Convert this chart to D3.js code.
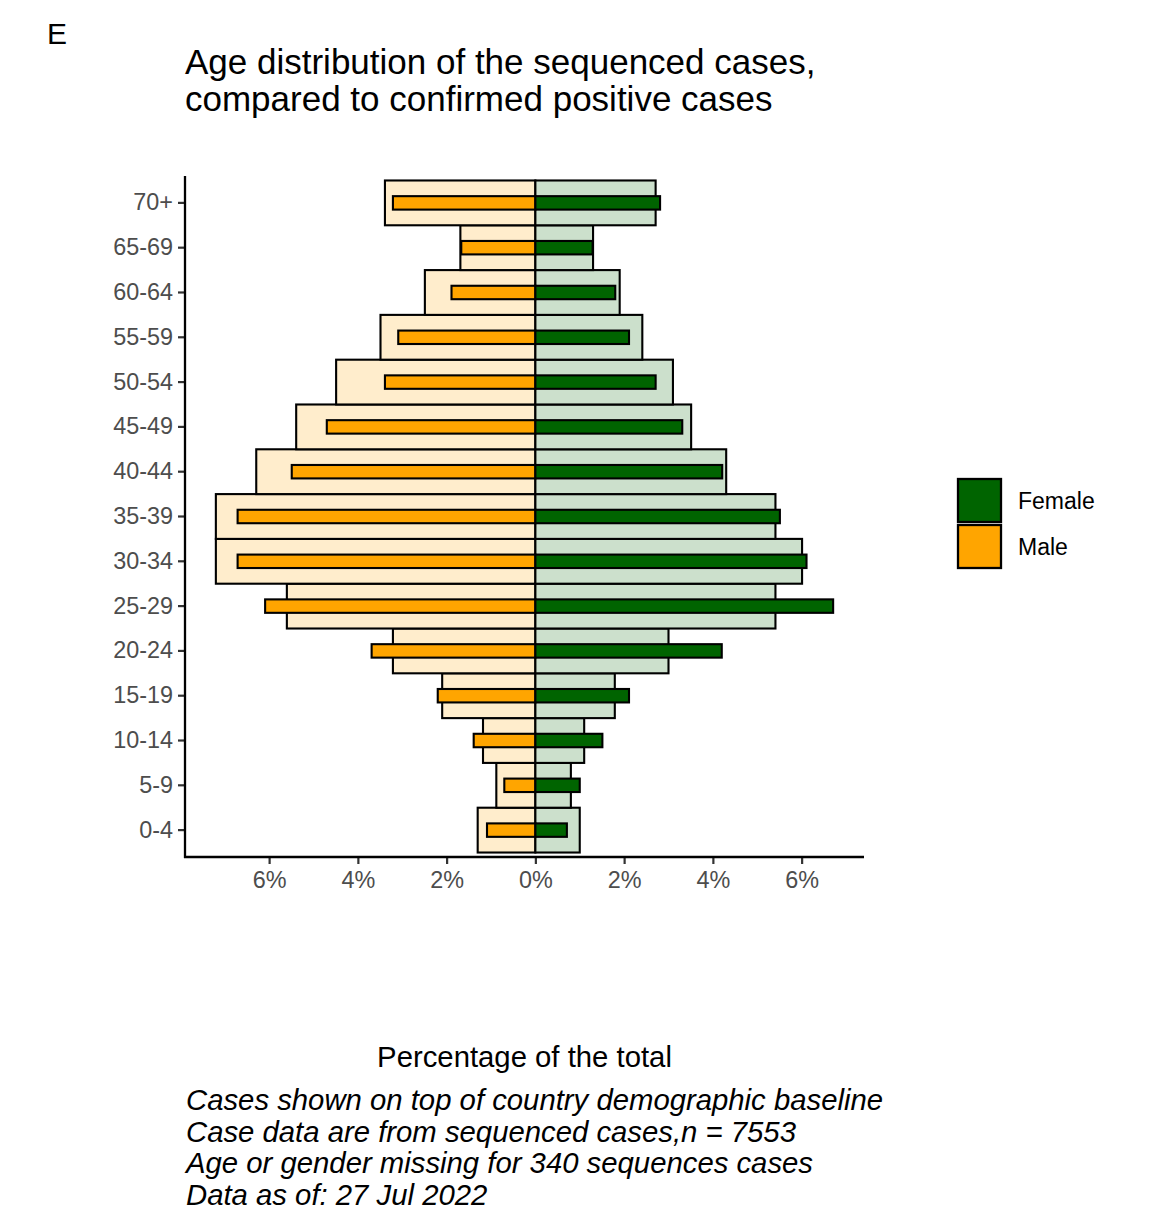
<!DOCTYPE html>
<html>
<head>
<meta charset="utf-8">
<script src="https://cdn.jsdelivr.net/npm/d3@7"></script>
<style>
  html, body { margin: 0; padding: 0; background: #fff; }
  svg { display: block; }
  text { font-family: "Liberation Sans", Arial, Helvetica, sans-serif; }
</style>
</head>
<body>
<div id="chart"></div>
<script>
// ---- Data (percent of total) ----
const ageGroups = ["0-4","5-9","10-14","15-19","20-24","25-29","30-34","35-39","40-44","45-49","50-54","55-59","60-64","65-69","70+"];
const baselineMale   = [1.30, 0.88, 1.18, 2.10, 3.21, 5.60, 7.20, 7.20, 6.29, 5.39, 4.49, 3.49, 2.49, 1.69, 3.39];
const baselineFemale = [1.00, 0.80, 1.10, 1.79, 3.00, 5.41, 6.01, 5.41, 4.30, 3.51, 3.10, 2.41, 1.90, 1.30, 2.71];
const casesMale      = [1.09, 0.70, 1.39, 2.20, 3.69, 6.09, 6.71, 6.71, 5.49, 4.70, 3.39, 3.09, 1.89, 1.67, 3.21];
const casesFemale    = [0.71, 1.00, 1.51, 2.11, 4.20, 6.71, 6.11, 5.51, 4.21, 3.31, 2.71, 2.11, 1.80, 1.29, 2.81];
const xTicks = [-6, -4, -2, 0, 2, 4, 6];
const legendItems = ["Female", "Male"];
const titleLines = ["Age distribution of the sequenced cases,", "compared to confirmed positive cases"];
const captionLines = [
  "Cases shown on top of country demographic baseline",
  "Case data are from sequenced cases,n = 7553",
  "Age or gender missing for 340 sequences cases",
  "Data as of: 27 Jul 2022"
];
const xTitle = "Percentage of the total";
const tagLabel = "E";

// ---- Styles ----
const colors = {
  Female: "#006400", Male: "#FFA500",
  FemaleBase: "#CCE0CC", MaleBase: "#FFEDCC"
};

const W = 1166, H = 1209;
const panel = { left: 185, right: 864, top: 176, bottom: 857 };

const svg = d3.select("#chart").append("svg").attr("width", W).attr("height", H);

// scales
const allVals = [].concat(baselineMale.map(v => -v), casesMale.map(v => -v), baselineFemale, casesFemale);
const lo = d3.min(allVals), hi = d3.max(allVals), pad = (hi - lo) * 0.05;
const x = d3.scaleLinear().domain([lo - pad, hi + pad]).range([panel.left, panel.right]);
const y = d3.scaleBand().domain(ageGroups).range([panel.bottom, panel.top]).paddingInner(0).paddingOuter(0.1);
const bw = y.bandwidth();

function rows(vals, sign, widthFrac) {
  return ageGroups.map((g, i) => ({ g, v: sign * vals[i], w: widthFrac }));
}

const plot = svg.append("g");

function drawBars(data, fill) {
  plot.append("g").selectAll("rect").data(data).join("rect")
    .attr("x", d => Math.min(x(0), x(d.v)))
    .attr("width", d => Math.abs(x(d.v) - x(0)))
    .attr("y", d => y(d.g) + bw * (1 - d.w) / 2)
    .attr("height", d => bw * d.w)
    .attr("fill", fill)
    .attr("stroke", "#000")
    .attr("stroke-width", 2.1);
}

drawBars(rows(baselineMale, -1, 1.0), colors.MaleBase);
drawBars(rows(baselineFemale, 1, 1.0), colors.FemaleBase);
drawBars(rows(casesMale, -1, 0.3), colors.Male);
drawBars(rows(casesFemale, 1, 0.3), colors.Female);

// axes
const xAxis = d3.axisBottom(x).tickValues(xTicks).tickSize(7).tickPadding(7)
  .tickFormat(d => Math.abs(d) + "%");
const gx = svg.append("g").attr("transform", `translate(0,${panel.bottom})`).call(xAxis);
gx.select(".domain").remove();
gx.append("line").attr("x1", panel.left - 1).attr("x2", panel.right).attr("y1", 0).attr("y2", 0)
  .attr("stroke", "#000").attr("stroke-width", 2.3);
gx.selectAll(".tick line").attr("stroke", "#333").attr("stroke-width", 2.2);
gx.selectAll(".tick text").attr("fill", "#4D4D4D").style("font-size", "23.4px")
  .style("font-family", '"Liberation Sans", Arial, sans-serif');

const yAxis = d3.axisLeft(y).tickSize(7).tickPadding(5);
const gy = svg.append("g").attr("transform", `translate(${panel.left},0)`).call(yAxis);
gy.select(".domain").remove();
gy.append("line").attr("x1", 0).attr("x2", 0).attr("y1", panel.top).attr("y2", panel.bottom + 1)
  .attr("stroke", "#000").attr("stroke-width", 2.3);
gy.selectAll(".tick line").attr("stroke", "#333").attr("stroke-width", 2.2);
gy.selectAll(".tick text").attr("fill", "#4D4D4D").style("font-size", "23.4px")
  .style("font-family", '"Liberation Sans", Arial, sans-serif');

// legend
const leg = svg.append("g").attr("transform", "translate(958,479)");
legendItems.forEach((k, i) => {
  leg.append("rect").attr("x", 0).attr("y", i * 46).attr("width", 43).attr("height", 43)
    .attr("fill", colors[k]).attr("stroke", "#000").attr("stroke-width", 2.3);
  leg.append("text").attr("x", 60).attr("y", i * 46 + 22).attr("dy", "0.35em")
    .style("font-size", "23px").attr("fill", "#000").text(k);
});

// tag
svg.append("text").attr("x", 47).attr("y", 44).style("font-size", "30px").attr("fill", "#000").text(tagLabel);

// title
titleLines.forEach((t, i) => {
  svg.append("text").attr("x", 185).attr("y", 74 + i * 37).style("font-size", "35px").attr("fill", "#000").text(t);
});

// x-axis title
svg.append("text").attr("x", (panel.left + panel.right) / 2).attr("y", 1067)
  .attr("text-anchor", "middle").style("font-size", "29.3px").attr("fill", "#000").text(xTitle);

// caption
captionLines.forEach((t, i) => {
  svg.append("text").attr("x", 186).attr("y", 1110 + i * 31.5)
    .style("font-size", "29.3px").style("font-style", "italic").attr("fill", "#000").text(t);
});
</script>
</body>
</html>
